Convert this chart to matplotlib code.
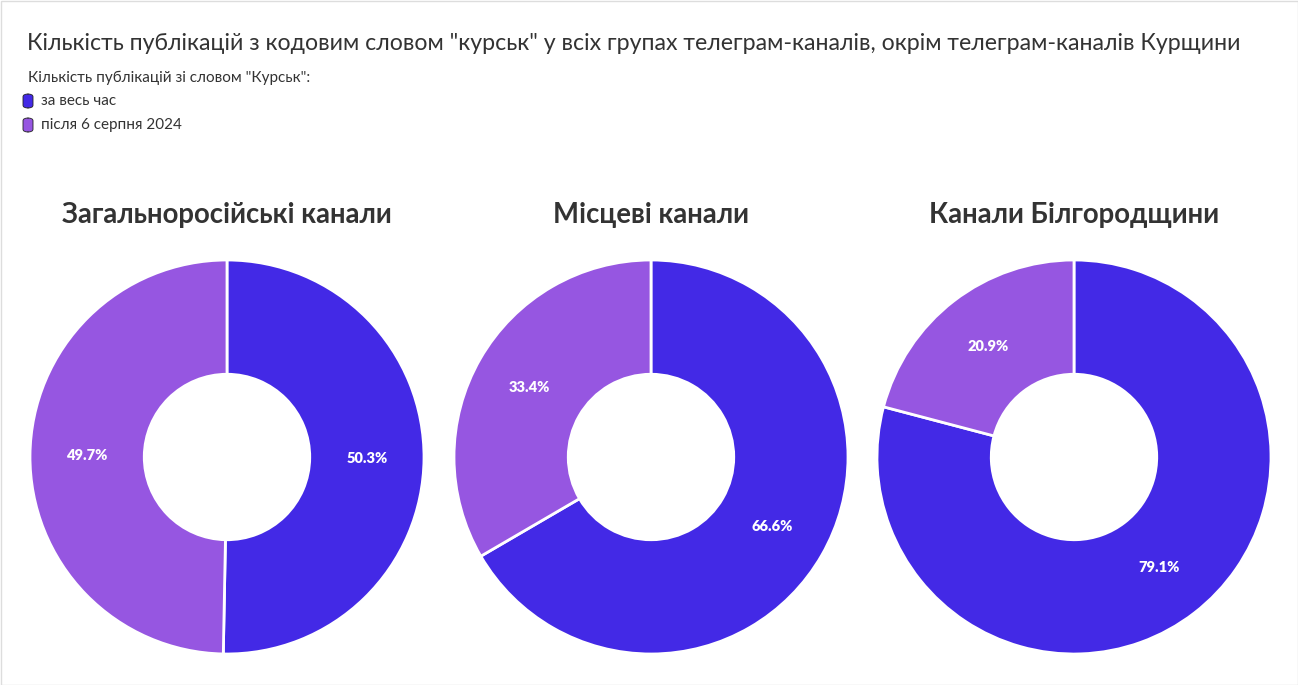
import numpy as np
import matplotlib.pyplot as plt
from matplotlib.patches import Rectangle, FancyBboxPatch

plt.rcParams['font.family'] = ['Lato', 'Open Sans', 'DejaVu Sans']

title = 'Кількість публікацій з кодовим словом "курськ" у всіх групах телеграм-каналів, окрім телеграм-каналів Курщини'
legend_title = 'Кількість публікацій зі словом "Курськ":'
series_names = ['за весь час', 'після 6 серпня 2024']
groups = ['Загальноросійські канали', 'Місцеві канали', 'Канали Білгородщини']
all_time = [50.3, 66.6, 79.1]
after_aug6 = [49.7, 33.4, 20.9]

BLUE = '#4329e6'
PURPLE = '#9656e1'
W, H = 1298, 685

fig = plt.figure(figsize=(W / 100, H / 100), dpi=100)
fig.patch.set_facecolor('white')

# faint frame round the card
fig.add_artist(Rectangle((0.5 / W, 0.5 / H), 1 - 1 / W, 1 - 1 / H, transform=fig.transFigure,
                         fill=False, edgecolor='#dddddd', linewidth=1))

fig.text(27 / W, 1 - 43 / H, title, fontsize=16.7, color='#333333', va='center', ha='left')
fig.text(28 / W, 1 - 78 / H, legend_title, fontsize=11, color='#333333', va='center', ha='left')
for i, (name, col) in enumerate(zip(series_names, [BLUE, PURPLE])):
    y = 101 + i * 24
    fig.add_artist(FancyBboxPatch((23 / W, 1 - (y + 7) / H), 10 / W, 14 / H,
                                  boxstyle='round,pad=0,rounding_size=0.004', transform=fig.transFigure,
                                  facecolor=col, edgecolor='#222222', linewidth=0.6))
    fig.text(41 / W, 1 - y / H, name, fontsize=11, color='#333333', va='center', ha='left')

centers = [227, 651, 1074]
cy = 457
r_out = 197
for cx, grp, a, b in zip(centers, groups, all_time, after_aug6):
    size = 2 * r_out + 10
    ax = fig.add_axes([(cx - size / 2) / W, 1 - (cy + size / 2) / H, size / W, size / H])
    wedges, texts = ax.pie([a, b], colors=[BLUE, PURPLE], startangle=90, counterclock=False,
                           radius=1, wedgeprops=dict(width=0.58, edgecolor='white', linewidth=2))
    ax.set_xlim(-size / 2 / r_out, size / 2 / r_out)
    ax.set_ylim(-size / 2 / r_out, size / 2 / r_out)
    ax.set_aspect('equal')
    for w, val in zip(wedges, [a, b]):
        ang = np.deg2rad((w.theta1 + w.theta2) / 2)
        rr = 0.71
        ax.text(rr * np.cos(ang), rr * np.sin(ang), f'{val}%', ha='center', va='center',
                fontsize=10.5, fontweight='heavy', color='white')
    fig.text(cx / W, 1 - 215 / H, grp, fontsize=19.8, fontweight='bold', color='#333333',
             ha='center', va='center')

fig.savefig('out.png', dpi=100)
